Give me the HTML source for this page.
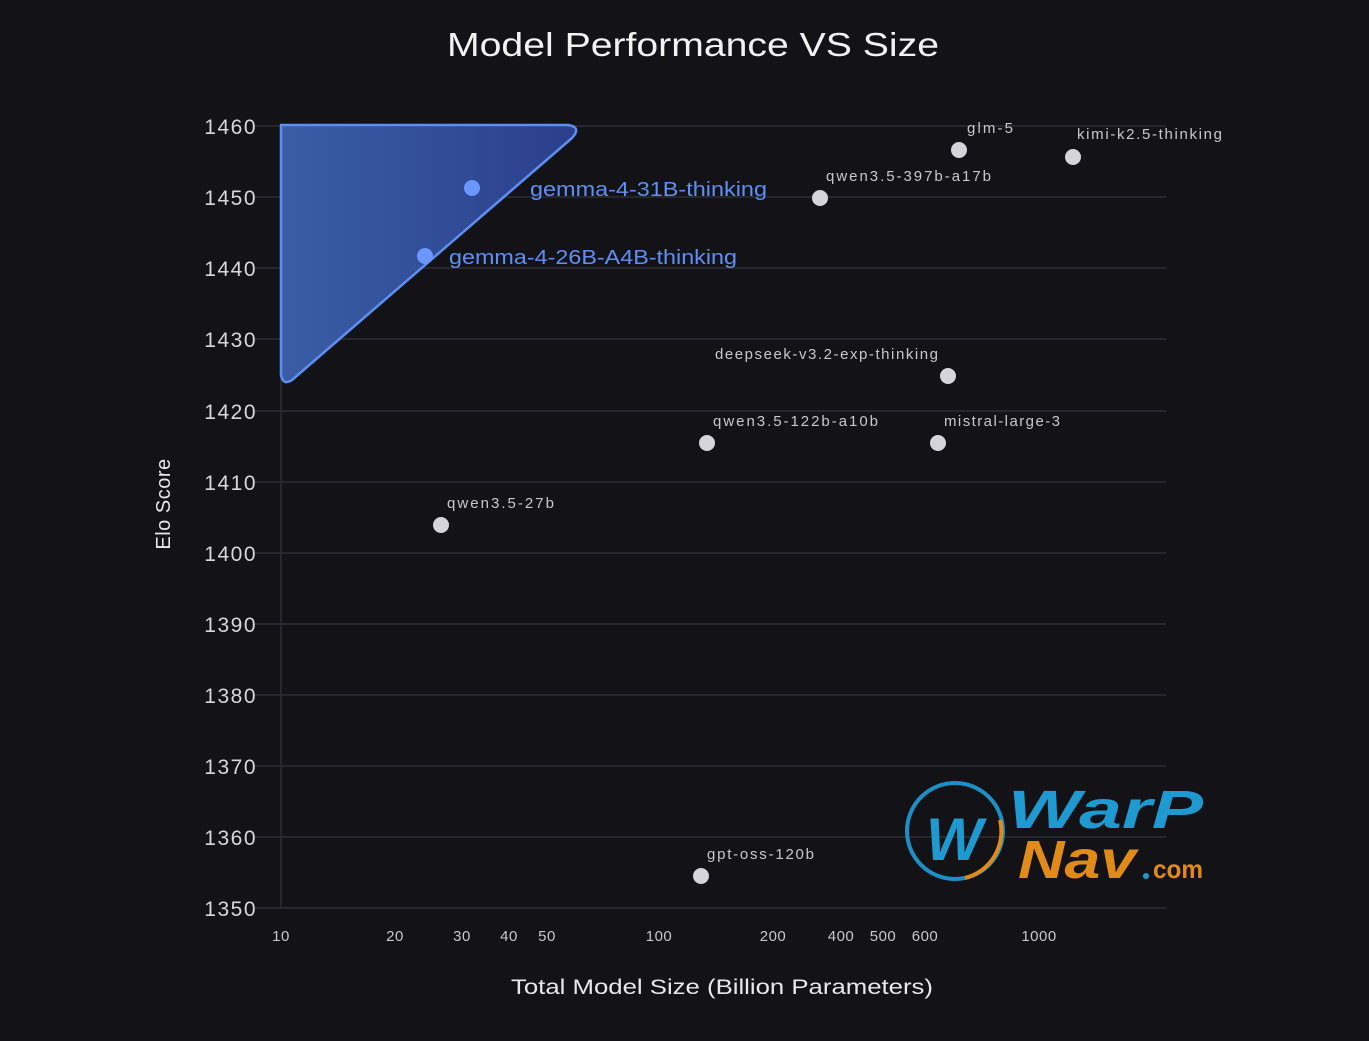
<!DOCTYPE html>
<html><head><meta charset="utf-8"><style>
html,body{margin:0;padding:0;background:#131317;}
svg{display:block;font-family:"Liberation Sans","DejaVu Sans",sans-serif;}
</style></head><body>
<svg width="1369" height="1041" viewBox="0 0 1369 1041">
<defs>
<linearGradient id="g" x1="0" y1="0" x2="1" y2="0">
<stop offset="0" stop-color="#3a5da6"/><stop offset="1" stop-color="#2b3f8c"/>
</linearGradient>
</defs>
<rect width="1369" height="1041" fill="#131317"/>
<text x="447" y="56" textLength="492" lengthAdjust="spacingAndGlyphs" fill="#f2f2f2" font-size="33">Model Performance VS Size</text>
<g stroke="#2c2c33" stroke-width="1.5">
<line x1="255" y1="126" x2="1166" y2="126"/>
<line x1="255" y1="197" x2="1166" y2="197"/>
<line x1="255" y1="268" x2="1166" y2="268"/>
<line x1="255" y1="339" x2="1166" y2="339"/>
<line x1="255" y1="411" x2="1166" y2="411"/>
<line x1="255" y1="482" x2="1166" y2="482"/>
<line x1="255" y1="553" x2="1166" y2="553"/>
<line x1="255" y1="624" x2="1166" y2="624"/>
<line x1="255" y1="695" x2="1166" y2="695"/>
<line x1="255" y1="766" x2="1166" y2="766"/>
<line x1="255" y1="837" x2="1166" y2="837"/>
<line x1="255" y1="908" x2="1166" y2="908"/>
<line x1="281" y1="126" x2="281" y2="908"/>
</g>
<g fill="#d8d8dc" font-size="21" text-anchor="end" letter-spacing="1.5">
<text x="257" y="134">1460</text><text x="257" y="205">1450</text><text x="257" y="276">1440</text>
<text x="257" y="347">1430</text><text x="257" y="419">1420</text><text x="257" y="490">1410</text>
<text x="257" y="561">1400</text><text x="257" y="632">1390</text><text x="257" y="703">1380</text>
<text x="257" y="774">1370</text><text x="257" y="845">1360</text><text x="257" y="916">1350</text>
</g>
<text transform="translate(170,504) rotate(-90)" text-anchor="middle" fill="#e8e8e8" font-size="20" letter-spacing="0.5">Elo Score</text>
<g fill="#c8c8cc" font-size="15" text-anchor="middle" letter-spacing="0.5">
<text x="281" y="941">10</text><text x="395" y="941">20</text><text x="462" y="941">30</text>
<text x="509" y="941">40</text><text x="547" y="941">50</text><text x="659" y="941">100</text>
<text x="773" y="941">200</text><text x="841" y="941">400</text><text x="883" y="941">500</text>
<text x="925" y="941">600</text><text x="1039" y="941">1000</text>
</g>
<text x="511" y="994" textLength="422" lengthAdjust="spacingAndGlyphs" fill="#e8e8e8" font-size="21">Total Model Size (Billion Parameters)</text>
<path d="M281 125 L568 125 Q582 127 572 138 L292 380 Q283 386 281 375 Z" fill="url(#g)" stroke="#5b8ff0" stroke-width="2.5" stroke-linejoin="round"/>
<g fill="#6b98ff"><circle cx="472" cy="188" r="8"/><circle cx="425" cy="256" r="8"/></g>
<g fill="#5f8ff5" font-size="20">
<text x="530" y="196" textLength="237" lengthAdjust="spacingAndGlyphs">gemma-4-31B-thinking</text>
<text x="449" y="264" textLength="288" lengthAdjust="spacingAndGlyphs">gemma-4-26B-A4B-thinking</text>
</g>
<g fill="#d4d4da">
<circle cx="441" cy="525" r="8"/><circle cx="707" cy="443" r="8"/><circle cx="938" cy="443" r="8"/>
<circle cx="948" cy="376" r="8"/><circle cx="820" cy="198" r="8"/><circle cx="959" cy="150" r="8"/>
<circle cx="1073" cy="157" r="8"/><circle cx="701" cy="876" r="8"/>
</g>
<g fill="#c8c8cc" font-size="15" lengthAdjust="spacingAndGlyphs">
<text x="447" y="508" textLength="107">qwen3.5-27b</text>
<text x="713" y="426" textLength="165">qwen3.5-122b-a10b</text>
<text x="944" y="426" textLength="116">mistral-large-3</text>
<text x="715" y="359" textLength="223">deepseek-v3.2-exp-thinking</text>
<text x="826" y="181" textLength="165">qwen3.5-397b-a17b</text>
<text x="967" y="133" textLength="46">glm-5</text>
<text x="1077" y="139" textLength="145">kimi-k2.5-thinking</text>
<text x="707" y="859" textLength="107">gpt-oss-120b</text>
</g>
<g>
<circle cx="955" cy="831" r="48" fill="none" stroke="#1e8fc4" stroke-width="4"/>
<path d="M1000 820 A48 48 0 0 1 965 878" fill="none" stroke="#e08a1a" stroke-width="4"/>
<text x="926" y="860" fill="#1e9ad0" font-size="60" font-weight="bold" font-style="italic">W</text>
<text x="1008" y="828" textLength="195" lengthAdjust="spacingAndGlyphs" fill="#1e9ad0" font-size="54" font-weight="bold" font-style="italic">WarP</text>
<text x="1018" y="878" textLength="118" lengthAdjust="spacingAndGlyphs" fill="#e08a1a" font-size="54" font-weight="bold" font-style="italic">Nav</text>
<circle cx="1146" cy="876" r="3" fill="#1e9ad0"/>
<text x="1153" y="878" textLength="50" lengthAdjust="spacingAndGlyphs" fill="#e08a1a" font-size="26" font-weight="bold">com</text>
</g>
</svg>
</body></html>
